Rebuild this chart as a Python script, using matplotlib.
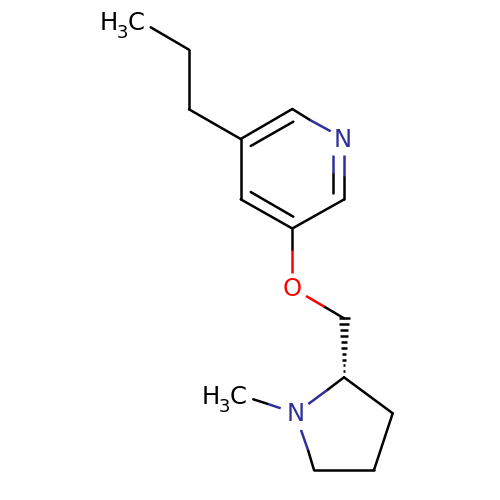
import numpy as np
import matplotlib
matplotlib.use("Agg")
import matplotlib.pyplot as plt

BLACK = "#000000"
BLUE = "#30309a"
RED = "#ff0000"

# bonds, in picture pixels: x0, y0, x1, y1
black_x0 = [150.7, 189.0, 189.0, 240.7, 292.3, 240.7, 250.7, 240.7, 250.7, 292.3, 292.3, 344.3, 333.3, 324.3, 344.0, 314.0, 374.0, 392.7, 253.3, 308.0]
black_y0 = [27.3, 49.7, 109.3, 139.0, 109.0, 139.0, 146.0, 199.3, 192.0, 228.5, 228.5, 199.3, 193.0, 306.7, 377.3, 470.0, 470.0, 413.3, 399.3, 450.0]
black_x1 = [189.0, 189.0, 240.7, 292.3, 310.0, 240.7, 293.3, 292.3, 293.3, 344.3, 292.3, 344.3, 333.3, 344.0, 327.3, 374.0, 392.7, 344.0, 268.0, 314.0]
black_y1 = [49.7, 109.3, 139.0, 109.0, 120.0, 199.3, 121.7, 228.5, 216.7, 199.3, 250.0, 176.0, 173.0, 318.3, 390.0, 470.0, 413.3, 377.3, 404.0, 470.0]

blue_x0 = [310.0, 344.3, 333.3, 327.3, 280.7, 308.0]
blue_y0 = [120.0, 176.0, 173.0, 390.0, 408.3, 450.0]
blue_x1 = [330.7, 344.3, 333.3, 308.3, 268.0, 301.0]
blue_y1 = [131.3, 155.0, 155.0, 404.0, 404.0, 430.0]

red_x0 = [292.3, 306.0]
red_y0 = [250.0, 296.0]
red_x1 = [292.3, 324.3]
red_y1 = [273.0, 306.7]

# hashed bond from the ring carbon up to the CH2
hash_x = 344.0
hash_y0 = 377.3
hash_y1 = 318.0
hash_count = 11
hash_half_width = 5.5

fig = plt.figure(figsize=(5, 5), dpi=100)
ax = fig.add_axes([0, 0, 1, 1])
ax.set_xlim(0, 500)
ax.set_ylim(500, 0)
ax.axis("off")

lw = 1.8
for x0, y0, x1, y1 in zip(black_x0, black_y0, black_x1, black_y1):
    ax.plot([x0, x1], [y0, y1], color=BLACK, lw=lw, solid_capstyle="round")
for x0, y0, x1, y1 in zip(blue_x0, blue_y0, blue_x1, blue_y1):
    ax.plot([x0, x1], [y0, y1], color=BLUE, lw=lw, solid_capstyle="butt")
for x0, y0, x1, y1 in zip(red_x0, red_y0, red_x1, red_y1):
    ax.plot([x0, x1], [y0, y1], color=RED, lw=lw, solid_capstyle="butt")

# hash lines get wider towards the CH2
for y in np.linspace(hash_y0, hash_y1, hash_count):
    w = hash_half_width * (hash_y0 - y) / (hash_y0 - hash_y1)
    ax.plot([hash_x - w, hash_x + w], [y, y], color=BLACK, lw=1.8, solid_capstyle="butt")

fs = 17.5
sub_fs = 13
ax.text(343, 140, "N", color=BLUE, fontsize=fs, ha="center", va="center")
ax.text(295.7, 414, "N", color=BLUE, fontsize=fs, ha="center", va="center")
ax.text(291.7, 289.5, "O", color=RED, fontsize=fs, ha="center", va="center")

# H3C labels: left edge of H, baseline
for lx, ly in [(100, 29.5), (202, 404)]:
    ax.text(lx, ly, "H", color=BLACK, fontsize=fs, ha="left", va="baseline")
    ax.text(lx + 17, ly + 8, "3", color=BLACK, fontsize=sub_fs, ha="left", va="baseline")
    ax.text(lx + 28, ly, "C", color=BLACK, fontsize=fs, ha="left", va="baseline")

fig.savefig("out.png", dpi=100)
